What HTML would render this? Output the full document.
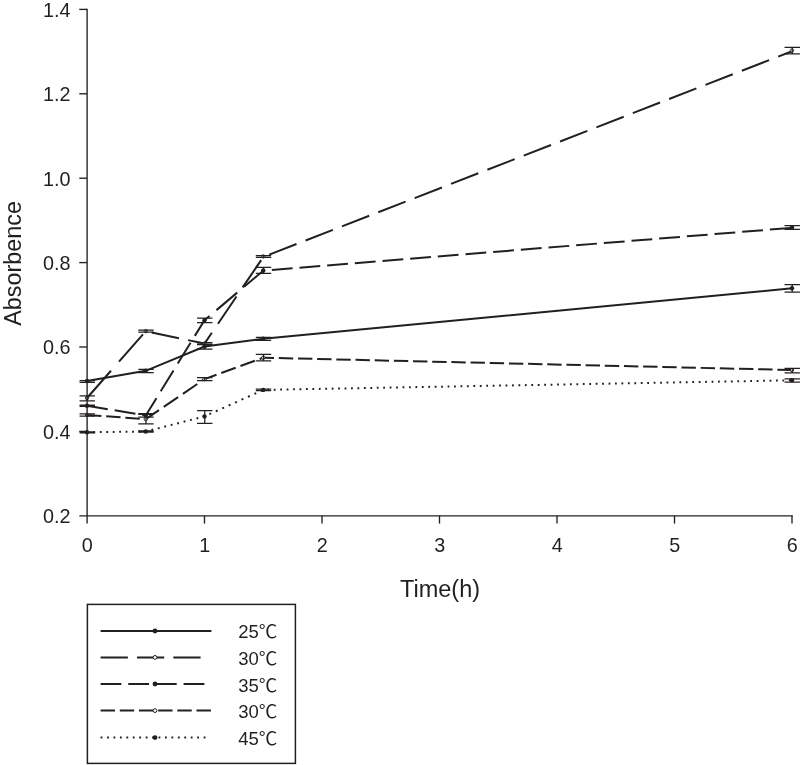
<!DOCTYPE html>
<html lang="en"><head><meta charset="utf-8"><title>Absorbence vs Time</title>
<style>html,body{margin:0;padding:0;background:#fff}body{width:800px;height:765px;position:relative;overflow:hidden;font-family:"Liberation Sans",sans-serif}</style></head>
<body>
<svg width="800" height="765" viewBox="0 0 800 765" style="position:absolute;left:0;top:0;overflow:hidden">
<path d="M87.00 381.00 L145.75 370.80 L204.50 346.50 L263.25 338.80 L792.00 288.30" stroke="#231f20" stroke-width="2.0" fill="none"/>
<g stroke="#231f20" stroke-width="2.0" fill="none">
<path d="M87.00 398.00 L145.75 331.20" stroke-dasharray="36.32 12.11" stroke-dashoffset="0.00"/>
<path d="M145.75 331.20 L204.50 343.60" stroke-dasharray="27.87 9.29" stroke-dashoffset="31.11"/>
<path d="M204.50 343.60 L263.25 257.00" stroke-dasharray="32.95 10.98" stroke-dashoffset="19.90"/>
<path d="M263.25 257.00 L792.00 51.20" stroke-dasharray="29.26 9.75" stroke-dashoffset="32.57"/>
</g>
<g stroke="#231f20" stroke-width="2.0" fill="none">
<path d="M87.00 405.70 L145.75 415.50" stroke-dasharray="21.04 7.02" stroke-dashoffset="0.00"/>
<path d="M145.75 415.50 L204.50 320.20" stroke-dasharray="24.38 8.13" stroke-dashoffset="4.01"/>
<path d="M204.50 320.20 L263.25 270.70" stroke-dasharray="27.13 9.05" stroke-dashoffset="20.53"/>
<path d="M263.25 270.70 L792.00 227.80" stroke-dasharray="20.82 6.94" stroke-dashoffset="19.17"/>
</g>
<g stroke="#231f20" stroke-width="2.0" fill="none">
<path d="M87.00 414.90 L145.75 419.10" stroke-dasharray="14.44 4.79" stroke-dashoffset="0.00"/>
<path d="M145.75 419.10 L204.50 379.10" stroke-dasharray="17.42 5.78" stroke-dashoffset="1.46"/>
<path d="M204.50 379.10 L263.25 357.70" stroke-dasharray="15.33 5.09" stroke-dashoffset="2.58"/>
<path d="M263.25 357.70 L792.00 370.00" stroke-dasharray="14.40 4.78" stroke-dashoffset="3.63"/>
</g>
<g stroke="#231f20" stroke-width="2.0" fill="none">
<path d="M87.00 432.30 L145.75 431.50" stroke-dasharray="1.80 4.64" stroke-dashoffset="0.00"/>
<path d="M145.75 431.50 L204.50 416.40" stroke-dasharray="1.86 4.79" stroke-dashoffset="0.82"/>
<path d="M204.50 416.40 L263.25 389.90" stroke-dasharray="1.97 5.09" stroke-dashoffset="1.73"/>
<path d="M263.25 389.90 L792.00 380.30" stroke-dasharray="1.80 4.64" stroke-dashoffset="2.37"/>
</g>
<circle cx="87.00" cy="381.00" r="2.2" fill="#231f20"/>
<circle cx="145.75" cy="370.80" r="2.2" fill="#231f20"/>
<circle cx="204.50" cy="346.50" r="2.2" fill="#231f20"/>
<circle cx="263.25" cy="338.80" r="2.2" fill="#231f20"/>
<circle cx="792.00" cy="288.30" r="2.2" fill="#231f20"/>
<circle cx="87.00" cy="398.00" r="1.7" fill="#fff" stroke="#231f20" stroke-width="0.9"/>
<circle cx="145.75" cy="331.20" r="1.7" fill="#fff" stroke="#231f20" stroke-width="0.9"/>
<circle cx="204.50" cy="343.60" r="1.7" fill="#fff" stroke="#231f20" stroke-width="0.9"/>
<circle cx="263.25" cy="256.40" r="1.7" fill="#fff" stroke="#231f20" stroke-width="0.9"/>
<circle cx="792.00" cy="50.50" r="1.7" fill="#fff" stroke="#231f20" stroke-width="0.9"/>
<circle cx="87.00" cy="405.70" r="2.2" fill="#231f20"/>
<circle cx="145.75" cy="415.50" r="2.2" fill="#231f20"/>
<circle cx="204.50" cy="320.20" r="2.2" fill="#231f20"/>
<circle cx="263.25" cy="270.40" r="2.2" fill="#231f20"/>
<circle cx="792.00" cy="227.50" r="2.2" fill="#231f20"/>
<circle cx="87.00" cy="414.90" r="1.7" fill="#fff" stroke="#231f20" stroke-width="0.9"/>
<circle cx="145.75" cy="419.10" r="1.7" fill="#fff" stroke="#231f20" stroke-width="0.9"/>
<circle cx="204.50" cy="379.10" r="1.7" fill="#fff" stroke="#231f20" stroke-width="0.9"/>
<circle cx="263.25" cy="357.70" r="1.7" fill="#fff" stroke="#231f20" stroke-width="0.9"/>
<circle cx="792.00" cy="370.00" r="1.7" fill="#fff" stroke="#231f20" stroke-width="0.9"/>
<circle cx="87.00" cy="432.30" r="2.2" fill="#231f20"/>
<circle cx="145.75" cy="431.50" r="2.2" fill="#231f20"/>
<circle cx="204.50" cy="416.40" r="2.2" fill="#231f20"/>
<circle cx="263.25" cy="389.90" r="2.2" fill="#231f20"/>
<circle cx="792.00" cy="380.30" r="2.2" fill="#231f20"/>
<g stroke="#231f20" stroke-width="1.25" fill="none">
<path d="M79.55 380.70 H94.95 M79.55 382.40 H94.95 M87.25 380.70 V382.40"/>
<path d="M138.30 369.30 H153.70 M138.30 372.60 H153.70 M146.00 369.30 V372.60"/>
<path d="M197.05 344.00 H212.45 M197.05 349.00 H212.45 M204.75 344.00 V349.00"/>
<path d="M255.80 337.25 H271.20 M255.80 340.40 H271.20 M263.50 337.25 V340.40"/>
<path d="M784.55 284.70 H799.95 M784.55 292.00 H799.95 M792.25 284.70 V292.00"/>
<path d="M79.55 395.90 H94.95 M79.55 400.80 H94.95 M87.25 395.90 V400.80"/>
<path d="M138.30 330.20 H153.70 M138.30 332.20 H153.70 M146.00 330.20 V332.20"/>
<path d="M197.05 342.60 H212.45 M197.05 344.50 H212.45 M204.75 342.60 V344.50"/>
<path d="M255.80 255.60 H271.20 M255.80 257.40 H271.20 M263.50 255.60 V257.40"/>
<path d="M784.55 47.30 H799.95 M784.55 53.90 H799.95 M792.25 47.30 V53.90"/>
<path d="M79.55 405.00 H94.95 M79.55 406.40 H94.95 M87.25 405.00 V406.40"/>
<path d="M138.30 413.70 H153.70 M138.30 417.20 H153.70 M146.00 413.70 V417.20"/>
<path d="M197.05 318.10 H212.45 M197.05 322.50 H212.45 M204.75 318.10 V322.50"/>
<path d="M255.80 267.30 H271.20 M255.80 273.40 H271.20 M263.50 267.30 V273.40"/>
<path d="M784.55 225.70 H799.95 M784.55 229.40 H799.95 M792.25 225.70 V229.40"/>
<path d="M79.55 413.85 H94.95 M79.55 416.20 H94.95 M87.25 413.85 V416.20"/>
<path d="M138.30 414.30 H153.70 M138.30 423.90 H153.70 M146.00 414.30 V423.90"/>
<path d="M197.05 377.70 H212.45 M197.05 380.50 H212.45 M204.75 377.70 V380.50"/>
<path d="M255.80 354.40 H271.20 M255.80 360.80 H271.20 M263.50 354.40 V360.80"/>
<path d="M784.55 368.30 H799.95 M784.55 372.90 H799.95 M792.25 368.30 V372.90"/>
<path d="M79.55 431.80 H94.95 M79.55 432.90 H94.95 M87.25 431.80 V432.90"/>
<path d="M138.30 430.80 H153.70 M138.30 432.20 H153.70 M146.00 430.80 V432.20"/>
<path d="M197.05 410.50 H212.45 M197.05 423.40 H212.45 M204.75 410.50 V423.40"/>
<path d="M255.80 389.20 H271.20 M255.80 390.60 H271.20 M263.50 389.20 V390.60"/>
<path d="M784.55 378.80 H799.95 M784.55 382.00 H799.95 M792.25 378.80 V382.00"/>
</g>
<g stroke="#231f20" stroke-width="1.35" fill="none" stroke-linecap="butt">
<path d="M87.1 8.8 V523.6"/>
<path d="M79.3 515.8 H792.7"/>
<path d="M79.3 9.40 H87"/>
<path d="M79.3 93.80 H87"/>
<path d="M79.3 178.20 H87"/>
<path d="M79.3 262.60 H87"/>
<path d="M79.3 347.00 H87"/>
<path d="M79.3 431.40 H87"/>
<path d="M204.50 515.8 V523.6"/>
<path d="M322.00 515.8 V523.6"/>
<path d="M439.50 515.8 V523.6"/>
<path d="M557.00 515.8 V523.6"/>
<path d="M674.50 515.8 V523.6"/>
<path d="M792.00 515.8 V523.6"/>
</g>
<rect x="87.4" y="604.4" width="208" height="159" fill="none" stroke="#231f20" stroke-width="1.5"/>
<path d="M100.6 631 H211.4" stroke="#231f20" stroke-width="2.0" fill="none"/>
<circle cx="155" cy="631" r="2.4" fill="#231f20"/>
<path d="M100.6 657.4 H203" stroke="#231f20" stroke-width="2.0" fill="none" stroke-dasharray="27.27 9.09"/>
<circle cx="155" cy="657.4" r="1.9" fill="#fff" stroke="#231f20" stroke-width="1"/>
<path d="M100.6 684 H206" stroke="#231f20" stroke-width="2.0" fill="none" stroke-dasharray="20.75 6.92"/>
<circle cx="155" cy="684" r="2.4" fill="#231f20"/>
<path d="M100.6 710.6 H211.4" stroke="#231f20" stroke-width="2.0" fill="none" stroke-dasharray="14.4 4.78"/>
<circle cx="155" cy="710.6" r="1.9" fill="#fff" stroke="#231f20" stroke-width="1"/>
<path d="M100.6 737.6 H206.5" stroke="#231f20" stroke-width="2.0" fill="none" stroke-dasharray="1.8 4.64"/>
<circle cx="155" cy="737.6" r="2.4" fill="#231f20"/>
<g font-family="Liberation Sans, sans-serif" fill="#231f20">
<text x="70.6" y="17" font-size="19.8" text-anchor="end">1.4</text>
<text x="70.6" y="101" font-size="19.8" text-anchor="end">1.2</text>
<text x="70.6" y="186" font-size="19.8" text-anchor="end">1.0</text>
<text x="70.6" y="270" font-size="19.8" text-anchor="end">0.8</text>
<text x="70.6" y="354" font-size="19.8" text-anchor="end">0.6</text>
<text x="70.6" y="439" font-size="19.8" text-anchor="end">0.4</text>
<text x="70.6" y="523" font-size="19.8" text-anchor="end">0.2</text>
<text x="87.30" y="552" font-size="19.8" text-anchor="middle">0</text>
<text x="204.80" y="552" font-size="19.8" text-anchor="middle">1</text>
<text x="322.30" y="552" font-size="19.8" text-anchor="middle">2</text>
<text x="439.80" y="552" font-size="19.8" text-anchor="middle">3</text>
<text x="557.30" y="552" font-size="19.8" text-anchor="middle">4</text>
<text x="674.80" y="552" font-size="19.8" text-anchor="middle">5</text>
<text x="792.30" y="552" font-size="19.8" text-anchor="middle">6</text>
<text x="440" y="597" font-size="23.5" text-anchor="middle">Time(h)</text>
<text transform="translate(20.7 263.4) rotate(-90)" font-size="23.35" text-anchor="middle">Absorbence</text>
<text x="238.3" y="638" font-size="18.5" font-family="Liberation Sans, 'Noto Sans CJK SC', sans-serif">25℃</text>
<text x="238.3" y="665" font-size="18.5" font-family="Liberation Sans, 'Noto Sans CJK SC', sans-serif">30℃</text>
<text x="238.3" y="692" font-size="18.5" font-family="Liberation Sans, 'Noto Sans CJK SC', sans-serif">35℃</text>
<text x="238.3" y="718" font-size="18.5" font-family="Liberation Sans, 'Noto Sans CJK SC', sans-serif">30℃</text>
<text x="238.3" y="745" font-size="18.5" font-family="Liberation Sans, 'Noto Sans CJK SC', sans-serif">45℃</text>
</g>
</svg>
</body></html>
